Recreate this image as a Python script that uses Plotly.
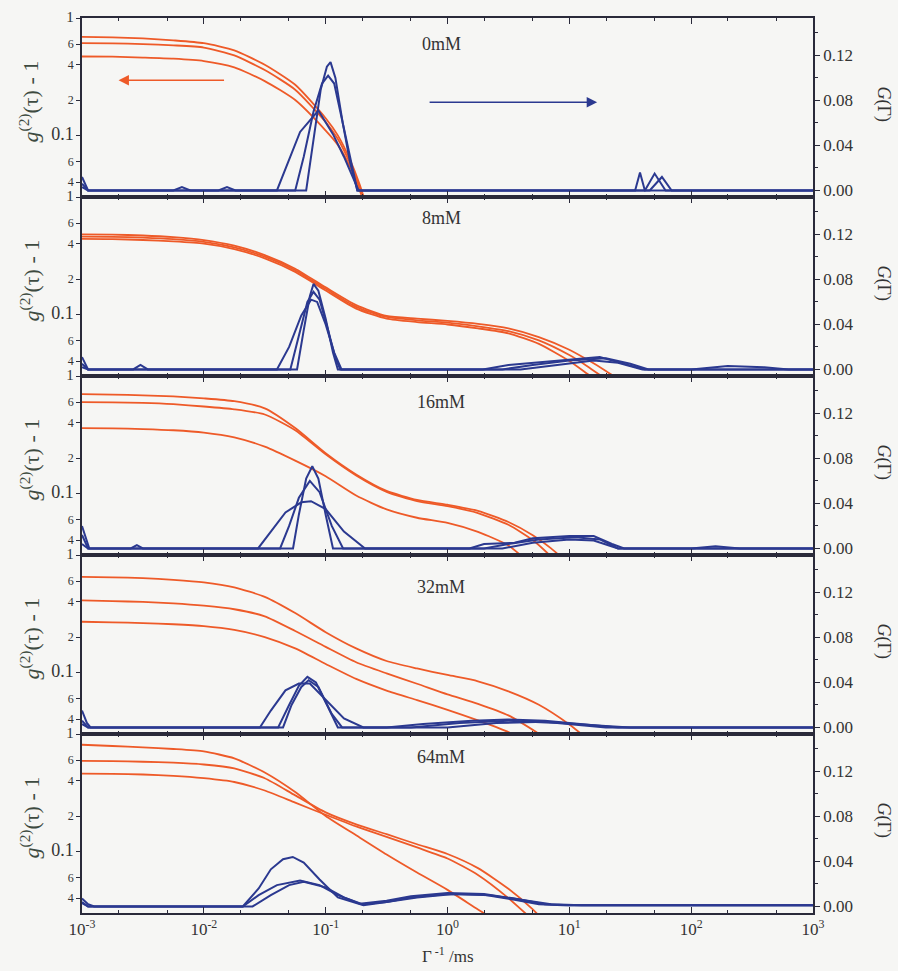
import plotly.graph_objects as go
from plotly.subplots import make_subplots

FONT = "Liberation Serif"
ORANGE = "#ee5a28"
BLUE = "#2b3990"
AXIS = "#2a2a3a"
TXT = "#333333"
BG = "#f6f6f4"

panel_labels = ["0mM", "8mM", "16mM", "32mM", "64mM"]
x_tick_exp = [-3, -2, -1, 0, 1, 2, 3]

# ---------- correlation functions g2(tau)-1 (left axis); x = log10(tau/ms) ----------
corr0_x = [-3, -2.75, -2.5, -2.25, -2, -1.75, -1.5, -1.25, -1.0, -0.9, -0.8, -0.72, -0.66]
corr0_a = [0.69, 0.685, 0.67, 0.645, 0.61, 0.53, 0.40, 0.27, 0.14, 0.10, 0.062, 0.038, 0.024]
corr0_b = [0.61, 0.607, 0.60, 0.585, 0.56, 0.48, 0.36, 0.245, 0.13, 0.093, 0.058, 0.036, 0.023]
corr0_c = [0.47, 0.468, 0.46, 0.45, 0.43, 0.38, 0.29, 0.20, 0.11, 0.083, 0.054, 0.034, 0.022]

corr1_x = [-3, -2.75, -2.5, -2.25, -2, -1.75, -1.5, -1.25, -1, -0.75, -0.5, -0.25, 0, 0.25, 0.5, 0.75, 1.0, 1.15, 1.3, 1.45]
corr1_a = [0.48, 0.478, 0.47, 0.455, 0.43, 0.385, 0.32, 0.245, 0.17, 0.12, 0.097, 0.092, 0.088, 0.083, 0.076, 0.064, 0.050, 0.041, 0.033, 0.026]
corr1_b = [0.46, 0.458, 0.45, 0.437, 0.415, 0.372, 0.31, 0.238, 0.165, 0.116, 0.095, 0.089, 0.085, 0.079, 0.072, 0.060, 0.045, 0.036, 0.028, 0.022]
corr1_c = [0.44, 0.438, 0.43, 0.418, 0.40, 0.36, 0.30, 0.23, 0.16, 0.112, 0.092, 0.086, 0.082, 0.076, 0.069, 0.056, 0.040, 0.031, 0.024, None]

corr2_x = [-3, -2.75, -2.5, -2.25, -2, -1.75, -1.5, -1.25, -1, -0.75, -0.5, -0.25, 0, 0.25, 0.5, 0.7, 0.85, 1.0]
corr2_a = [0.70, 0.695, 0.685, 0.67, 0.645, 0.61, 0.53, 0.36, 0.22, 0.145, 0.105, 0.088, 0.080, 0.071, 0.057, 0.044, 0.034, 0.025]
corr2_b = [0.60, 0.597, 0.59, 0.575, 0.55, 0.52, 0.47, 0.345, 0.215, 0.142, 0.103, 0.086, 0.078, 0.068, 0.054, 0.040, 0.029, None]
corr2_c = [0.36, 0.358, 0.353, 0.345, 0.33, 0.30, 0.25, 0.19, 0.14, 0.096, 0.073, 0.062, 0.056, 0.047, 0.036, 0.024, None, None]

corr3_x = [-3, -2.75, -2.5, -2.25, -2, -1.75, -1.5, -1.25, -1, -0.75, -0.5, -0.25, 0, 0.25, 0.5, 0.75, 1.0, 1.15]
corr3_a = [0.65, 0.645, 0.635, 0.615, 0.585, 0.53, 0.44, 0.32, 0.22, 0.16, 0.125, 0.108, 0.095, 0.084, 0.069, 0.053, 0.036, 0.027]
corr3_b = [0.41, 0.405, 0.398, 0.387, 0.37, 0.345, 0.30, 0.225, 0.165, 0.122, 0.098, 0.080, 0.065, 0.054, 0.043, 0.030, 0.020, None]
corr3_c = [0.27, 0.267, 0.263, 0.257, 0.248, 0.23, 0.20, 0.16, 0.118, 0.088, 0.070, 0.058, 0.048, 0.039, 0.031, 0.021, None, None]

corr4_x = [-3, -2.75, -2.5, -2.25, -2, -1.75, -1.5, -1.25, -1, -0.75, -0.5, -0.25, 0, 0.25, 0.5, 0.7, 0.8]
corr4_a = [0.81, 0.79, 0.77, 0.745, 0.71, 0.62, 0.47, 0.32, 0.20, 0.137, 0.094, 0.066, 0.047, 0.032, 0.022, None, None]
corr4_b = [0.59, 0.587, 0.58, 0.57, 0.55, 0.51, 0.42, 0.30, 0.215, 0.17, 0.14, 0.115, 0.095, 0.072, 0.048, 0.032, 0.025]
corr4_c = [0.46, 0.458, 0.452, 0.44, 0.42, 0.39, 0.33, 0.26, 0.205, 0.163, 0.133, 0.108, 0.087, 0.063, 0.040, 0.026, None]

# ---------- distributions G(Gamma) (right axis); x = log10(1/Gamma / ms) ----------
dist0_x1 = [-3, -2.95, -2.25, -2.18, -2.11, -1.16, -1.10, -1.04, -0.99, -0.96, -0.92, -0.86, -0.80, -0.74, 1.54, 1.58, 1.62, 3]
dist0_g1 = [0.012, 0, 0, 0.003, 0, 0, 0.045, 0.09, 0.11, 0.114, 0.10, 0.06, 0.025, 0, 0, 0.016, 0, 0]
dist0_x2 = [-3, -2.95, -1.88, -1.81, -1.74, -1.25, -1.18, -1.10, -1.03, -0.98, -0.93, -0.86, -0.79, -0.74, 1.62, 1.70, 1.79, 3]
dist0_g2 = [0.006, 0, 0, 0.003, 0, 0, 0.03, 0.07, 0.095, 0.102, 0.095, 0.06, 0.022, 0, 0, 0.015, 0, 0]
dist0_x3 = [-3, -2.95, -1.40, -1.30, -1.21, -1.06, -0.94, -0.85, -0.78, -0.73, 1.66, 1.76, 1.84, 3]
dist0_g3 = [0.003, 0, 0, 0.028, 0.052, 0.071, 0.05, 0.03, 0.012, 0, 0, 0.012, 0, 0]

dist1_x1 = [-3, -2.95, -2.58, -2.52, -2.46, -1.235, -1.18, -1.13, -1.10, -1.06, -1.0, -0.94, -0.90, 0.29, 0.5, 0.8, 1.1, 1.25, 1.45, 1.62, 2.0, 2.3, 2.6, 2.8, 3]
dist1_g1 = [0.011, 0, 0, 0.004, 0, 0, 0.035, 0.065, 0.076, 0.07, 0.045, 0.015, 0, 0, 0.004, 0.007, 0.010, 0.011, 0.005, 0, 0, 0.003, 0.002, 0, 0]
dist1_x2 = [-3, -2.95, -1.29, -1.22, -1.15, -1.10, -1.05, -0.98, -0.92, -0.88, 0.45, 0.7, 1.0, 1.3, 1.5, 1.65, 3]
dist1_g2 = [0.005, 0, 0, 0.03, 0.06, 0.069, 0.062, 0.035, 0.01, 0, 0, 0.004, 0.008, 0.010, 0.005, 0, 0]
dist1_x3 = [-3, -2.95, -1.40, -1.30, -1.20, -1.12, -1.07, -1.0, -0.93, -0.87, 0.6, 0.9, 1.2, 1.4, 1.6, 3]
dist1_g3 = [0.002, 0, 0, 0.02, 0.048, 0.062, 0.06, 0.04, 0.015, 0, 0, 0.004, 0.008, 0.006, 0, 0]

dist2_x1 = [-3, -2.97, -2.94, -2.6, -2.55, -2.5, -1.268, -1.22, -1.16, -1.11, -1.06, -1.0, -0.94, 0.18, 0.3, 0.55, 0.7, 1.0, 1.2, 1.35, 1.45, 2.0, 2.2, 2.4, 3]
dist2_g1 = [0.02, 0.01, 0, 0, 0.003, 0, 0, 0.03, 0.062, 0.073, 0.062, 0.03, 0, 0, 0.004, 0.005, 0.009, 0.011, 0.011, 0.004, 0, 0, 0.002, 0, 0]
dist2_x2 = [-3, -2.95, -1.374, -1.3, -1.22, -1.13, -1.05, -0.95, -0.857, 0.3, 0.5, 0.75, 1.05, 1.25, 1.4, 3]
dist2_g2 = [0.012, 0, 0, 0.02, 0.045, 0.06, 0.05, 0.02, 0, 0, 0.004, 0.008, 0.010, 0.008, 0, 0]
dist2_x3 = [-3, -2.95, -1.555, -1.45, -1.33, -1.2, -1.12, -1.0, -0.85, -0.677, 0.45, 0.7, 1.0, 1.2, 1.4, 3]
dist2_g3 = [0.004, 0, 0, 0.015, 0.032, 0.041, 0.042, 0.035, 0.015, 0, 0, 0.005, 0.008, 0.007, 0, 0]

dist3_x1 = [-3, -2.96, -2.93, -1.39, -1.3, -1.22, -1.15, -1.08, -0.98, -0.9, -0.5, -0.2, 0.2, 0.5, 0.8, 1.1, 1.4, 3]
dist3_g1 = [0.015, 0.004, 0, 0, 0.02, 0.037, 0.045, 0.04, 0.018, 0, 0, 0.003, 0.006, 0.007, 0.006, 0.003, 0, 0]
dist3_x2 = [-3, -2.95, -1.35, -1.28, -1.2, -1.14, -1.06, -0.95, -0.865, -0.3, 0.1, 0.5, 0.9, 1.3, 3]
dist3_g2 = [0.006, 0, 0, 0.02, 0.036, 0.042, 0.036, 0.012, 0, 0, 0.004, 0.006, 0.004, 0, 0]
dist3_x3 = [-3, -2.95, -1.54, -1.45, -1.33, -1.22, -1.13, -1.0, -0.85, -0.69, 0.0, 0.4, 0.8, 1.2, 1.5, 3]
dist3_g3 = [0.003, 0, 0, 0.015, 0.033, 0.039, 0.039, 0.025, 0.008, 0, 0, 0.004, 0.005, 0.002, 0, 0]

dist4_x1 = [-3, -2.95, -2.9, -1.68, -1.55, -1.45, -1.35, -1.27, -1.18, -1.05, -0.9, -0.69, -0.5, -0.3, 0.0, 0.3, 0.55, 0.75, 0.95, 3]
dist4_g1 = [0.007, 0.002, 0, 0, 0.016, 0.033, 0.042, 0.044, 0.039, 0.024, 0.008, 0.001, 0.004, 0.008, 0.011, 0.0105, 0.006, 0.002, 0.001, 0.001]
dist4_x2 = [-3, -2.95, -1.68, -1.55, -1.4, -1.21, -1.05, -0.9, -0.72, -0.5, -0.3, 0.0, 0.3, 0.55, 0.8, 1.0, 3]
dist4_g2 = [0.004, 0, 0, 0.01, 0.019, 0.023, 0.019, 0.01, 0.0025, 0.005, 0.009, 0.012, 0.011, 0.007, 0.002, 0.001, 0.001]
dist4_x3 = [-3, -2.95, -1.6, -1.45, -1.3, -1.18, -1.0, -0.85, -0.7, -0.5, -0.25, 0.05, 0.35, 0.6, 0.85, 1.1, 3]
dist4_g3 = [0.003, 0, 0, 0.01, 0.019, 0.022, 0.017, 0.008, 0.002, 0.004, 0.008, 0.011, 0.01, 0.006, 0.002, 0.001, 0.001]

corr_sets = [
    (corr0_x, [corr0_a, corr0_b, corr0_c]),
    (corr1_x, [corr1_a, corr1_b, corr1_c]),
    (corr2_x, [corr2_a, corr2_b, corr2_c]),
    (corr3_x, [corr3_a, corr3_b, corr3_c]),
    (corr4_x, [corr4_a, corr4_b, corr4_c]),
]
dist_sets = [
    [(dist0_x1, dist0_g1), (dist0_x2, dist0_g2), (dist0_x3, dist0_g3)],
    [(dist1_x1, dist1_g1), (dist1_x2, dist1_g2), (dist1_x3, dist1_g3)],
    [(dist2_x1, dist2_g1), (dist2_x2, dist2_g2), (dist2_x3, dist2_g3)],
    [(dist3_x1, dist3_g1), (dist3_x2, dist3_g2), (dist3_x3, dist3_g3)],
    [(dist4_x1, dist4_g1), (dist4_x2, dist4_g2), (dist4_x3, dist4_g3)],
]

fig = make_subplots(rows=5, cols=1, shared_xaxes=True, vertical_spacing=0,
                    specs=[[{"secondary_y": True}] for _ in range(5)])

for i in range(5):
    row = i + 1
    xs, curves = corr_sets[i]
    tau = [10 ** v for v in xs]
    for ys in curves:
        fig.add_trace(go.Scatter(x=tau, y=ys, mode="lines", showlegend=False,
                                 line=dict(color=ORANGE, width=1.8, shape="spline", smoothing=0.6),
                                 connectgaps=False, hoverinfo="skip"),
                      row=row, col=1, secondary_y=False)
    for dx, dg in dist_sets[i]:
        fig.add_trace(go.Scatter(x=[10 ** v for v in dx], y=dg, mode="lines", showlegend=False,
                                 line=dict(color=BLUE, width=2),
                                 hoverinfo="skip"),
                      row=row, col=1, secondary_y=True)

big = "<span style='font-size:18px'>%s</span>"
top1 = "<span style='font-size:15px'>%s</span>"
left_vals = [0.04, 0.06, 0.1, 0.2, 0.4, 0.6, 1]
left_text = ["4", "6", big % "0.1", "2", "4", "6", top1 % "1"]

for i in range(5):
    row = i + 1
    fig.update_xaxes(type="log", range=[-3, 3], domain=[0, 1],
                     showline=True, linecolor=AXIS, linewidth=1.5,
                     mirror="ticks", ticks="inside", ticklen=6, tickwidth=1.3, tickcolor=AXIS,
                     tickvals=[10 ** e for e in x_tick_exp],
                     ticktext=["10<sup>%d</sup>" % e for e in x_tick_exp],
                     minor=dict(ticks="inside", ticklen=3, tickcolor=AXIS, showgrid=False),
                     showgrid=False, zeroline=False, automargin=False,
                     showticklabels=(row == 5),
                     tickfont=dict(family=FONT, size=17, color=TXT),
                     row=row, col=1)
    fig.update_yaxes(type="log", range=[-1.525, 0], showline=True, linecolor=AXIS, linewidth=1.5,
                     ticks="outside", ticklen=4, tickcolor=AXIS,
                     tickvals=left_vals, ticktext=left_text,
                     tickfont=dict(family=FONT, size=12, color=TXT),
                     showgrid=False, zeroline=False, automargin=False,
                     row=row, col=1, secondary_y=False)
    fig.update_yaxes(range=[-0.0058, 0.1532], showline=True, linecolor=AXIS, linewidth=1.5,
                     ticks="outside", ticklen=5, tickcolor=AXIS,
                     tickmode="linear", tick0=0, dtick=0.04, tickformat=".2f",
                     minor=dict(ticks="outside", ticklen=3, dtick=0.02, tickcolor=AXIS, showgrid=False),
                     tickfont=dict(family=FONT, size=17, color=TXT),
                     showgrid=False, zeroline=False, automargin=False,
                     row=row, col=1, secondary_y=True)

PW, PH = 731.0, 895.0
label_py = [44, 218, 402, 587, 757]


def px_x(px):
    return (px - 82) / PW


def px_y(py):
    return (913 - py) / PH


def note(px, py, text, size, color=TXT, angle=0):
    return dict(xref="paper", yref="paper", x=px_x(px), y=px_y(py), text=text,
                showarrow=False, xanchor="center", yanchor="middle", textangle=angle,
                font=dict(family=FONT, size=size, color=color))


annotations = []
for i in range(5):
    top_py = 18 + i * 179
    center_py = top_py + 89.5
    annotations.append(note(441, label_py[i], panel_labels[i], 18))
    annotations.append(note(29, center_py - 6, "<i>g</i><sup>(2)</sup>(τ) - 1", 22, "#3d4a40", -90))
    annotations.append(note(883, center_py - 4, "<i>G</i>(Γ)", 18, TXT, 90))

annotations.append(note(448, 955, "Γ<sup> -1</sup> /ms", 17))
# direction arrows in the top panel
annotations.append(dict(xref="x", yref="y", x=-2.70, y=-0.53, ax=107, ay=0, text="",
                        showarrow=True, arrowhead=2, arrowsize=1.3, arrowwidth=1.6,
                        arrowcolor=ORANGE))
annotations.append(dict(xref="x", yref="y", x=1.228, y=-0.718, ax=-169, ay=0, text="",
                        showarrow=True, arrowhead=2, arrowsize=1.3, arrowwidth=1.6,
                        arrowcolor=BLUE))

fig.update_layout(width=898, height=971,
                  margin=dict(l=82, r=85, t=18, b=58),
                  paper_bgcolor=BG, plot_bgcolor=BG,
                  font=dict(family=FONT, color=TXT),
                  showlegend=False, annotations=annotations)

fig.write_html("out.html")
